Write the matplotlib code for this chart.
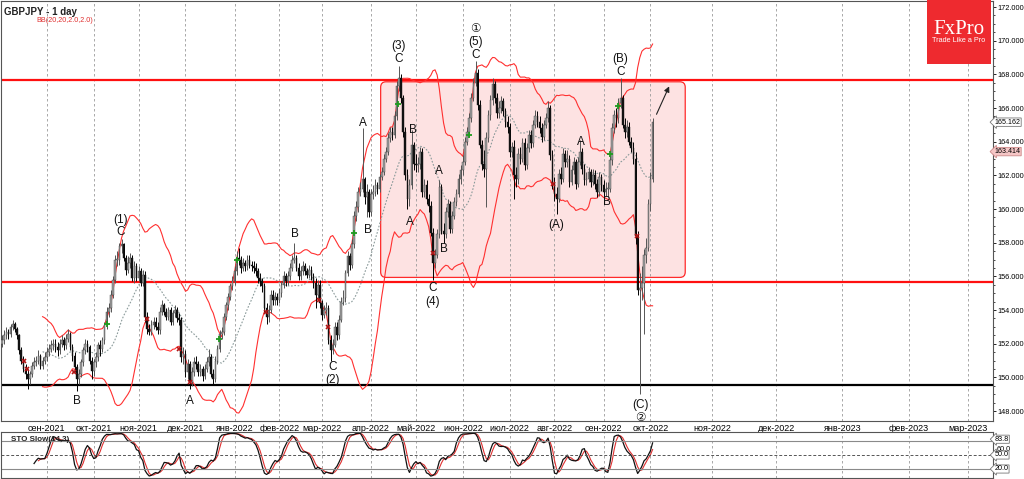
"""GBPJPY daily chart with Bollinger bands, wave labels and slow stochastic."""

import numpy as np
import pandas as pd
import matplotlib

matplotlib.use("Agg")
import matplotlib.pyplot as plt
from matplotlib.patches import FancyBboxPatch, Rectangle

plt.rcParams["font.family"] = ["Liberation Sans", "DejaVu Sans"]

FIRST_DAY = "2021-08-03"
FIRST_OPEN = 152.0

# daily closes / highs / lows, one list per month
close_2021_08 = [152.2, 152.5, 152.7, 152.6, 153.0, 153.2, 152.9, 152.5, 151.6, 151.0, 150.5, 150.2, 149.9, 150.2, 150.7, 150.9, 151.0, 151.3, 150.7, 151.0, 151.2]
high_2021_08 = [152.5, 152.8, 153.0, 152.9, 153.2, 153.4, 153.3, 153.0, 152.6, 151.8, 151.3, 150.8, 150.5, 150.4, 150.9, 151.2, 151.3, 151.6, 151.4, 151.2, 151.5]
low_2021_08 = [151.8, 152.0, 152.3, 152.3, 152.4, 152.8, 152.7, 152.3, 151.4, 150.8, 150.3, 149.9, 149.3, 149.6, 150.0, 150.5, 150.7, 150.8, 150.5, 150.5, 150.8]

close_2021_09 = [151.5, 151.7, 151.9, 152.0, 151.8, 151.6, 152.0, 152.2, 151.9, 152.3, 152.6, 151.8, 151.3, 150.6, 149.9, 150.2, 150.9, 151.6, 152.0, 151.8, 151.0, 150.4]
high_2021_09 = [151.8, 152.0, 152.2, 152.3, 152.3, 152.1, 152.3, 152.5, 152.4, 152.6, 152.9, 152.7, 152.0, 151.5, 150.8, 150.5, 151.1, 151.8, 152.3, 152.2, 151.9, 151.2]
low_2021_09 = [151.0, 151.3, 151.5, 151.6, 151.5, 151.3, 151.4, 151.8, 151.6, 151.7, 152.1, 151.6, 151.0, 150.3, 149.2, 149.6, 150.0, 150.7, 151.4, 151.5, 150.8, 149.9]

close_2021_10 = [150.9, 151.2, 151.9, 151.7, 152.2, 153.1, 153.9, 154.1, 154.9, 155.8, 157.0, 157.0, 157.8, 157.9, 157.1, 156.4, 156.8, 157.1, 155.9, 156.6, 155.9]
high_2021_10 = [151.1, 151.5, 152.1, 152.2, 152.4, 153.3, 154.2, 154.4, 155.2, 156.0, 157.3, 157.5, 158.0, 158.2, 158.0, 157.3, 157.2, 157.4, 157.3, 156.9, 156.8]
low_2021_10 = [150.1, 150.6, 151.0, 151.3, 151.5, 152.0, 152.9, 153.6, 153.9, 154.7, 155.6, 156.6, 156.7, 157.4, 156.9, 156.1, 156.2, 156.5, 155.7, 155.6, 155.7]

close_2021_11 = [156.3, 155.6, 156.1, 153.6, 152.9, 152.7, 153.1, 153.3, 153.0, 152.8, 153.9, 154.3, 153.9, 153.6, 154.0, 153.3, 153.8, 154.0, 153.5, 153.4, 151.2, 151.4]
high_2021_11 = [156.6, 156.5, 156.4, 156.3, 153.9, 153.2, 153.4, 153.6, 153.6, 153.3, 154.2, 154.6, 154.4, 154.1, 154.2, 154.2, 154.0, 154.3, 154.2, 153.8, 153.6, 151.8]
low_2021_11 = [155.7, 155.4, 155.4, 153.3, 152.6, 152.5, 152.5, 152.9, 152.8, 152.6, 152.6, 153.7, 153.7, 153.4, 153.4, 153.1, 153.1, 153.6, 153.3, 153.1, 150.9, 150.8]

close_2021_12 = [150.3, 150.8, 149.7, 150.3, 150.9, 150.8, 150.3, 150.5, 150.1, 150.5, 150.9, 151.2, 150.2, 149.9, 151.0, 151.7, 152.6, 152.7, 153.6, 154.3, 154.8, 155.4, 155.7]
high_2021_12 = [151.6, 151.1, 151.0, 150.6, 151.2, 151.3, 151.0, 150.8, 150.7, 150.8, 151.2, 151.7, 151.4, 150.5, 151.3, 151.9, 152.8, 153.0, 153.8, 154.5, 155.0, 155.6, 156.0]
low_2021_12 = [150.0, 149.9, 149.3, 149.5, 150.1, 150.5, 150.1, 150.1, 149.8, 149.9, 150.3, 150.7, 150.0, 149.6, 149.7, 150.8, 151.5, 152.3, 152.5, 153.4, 154.0, 154.6, 155.2]

close_2022_01 = [156.3, 157.1, 157.0, 156.5, 156.8, 156.6, 157.0, 156.7, 156.6, 156.5, 156.3, 155.9, 155.7, 155.4, 154.1, 153.6, 154.0, 154.9, 154.6, 154.8, 154.6]
high_2022_01 = [156.6, 157.5, 157.7, 157.2, 157.1, 157.0, 157.3, 157.3, 156.9, 156.9, 156.8, 156.5, 156.2, 155.9, 155.6, 154.4, 154.3, 155.2, 155.2, 155.1, 155.0]
low_2022_01 = [155.5, 156.1, 156.7, 156.2, 156.3, 156.3, 156.4, 156.5, 156.3, 156.2, 156.0, 155.6, 155.4, 155.1, 153.9, 153.2, 153.3, 153.8, 154.3, 154.3, 154.3]

close_2022_02 = [155.0, 155.5, 156.0, 155.7, 156.0, 156.5, 157.0, 157.1, 156.5, 156.0, 156.3, 156.6, 156.3, 156.1, 156.4, 156.0, 155.6, 154.9, 155.5, 154.4]
high_2022_02 = [155.3, 155.7, 156.3, 156.2, 156.3, 156.8, 157.3, 158.0, 157.3, 156.8, 156.6, 156.9, 156.8, 156.5, 156.7, 156.6, 156.2, 155.9, 155.8, 155.8]
low_2022_02 = [154.4, 154.8, 155.3, 155.4, 155.5, 155.8, 156.3, 156.8, 156.3, 155.8, 155.8, 156.1, 156.1, 155.9, 155.9, 155.8, 155.3, 154.1, 154.7, 154.1]

close_2022_03 = [153.7, 154.0, 154.1, 152.2, 151.6, 151.9, 153.0, 152.5, 153.4, 154.5, 154.7, 156.2, 157.2, 156.7, 157.9, 159.6, 160.1, 161.0, 161.2, 161.8, 160.7, 161.0, 159.8]
high_2022_03 = [154.6, 154.3, 154.5, 154.3, 152.5, 152.3, 153.3, 153.3, 153.7, 154.8, 155.2, 156.4, 157.5, 157.4, 158.2, 159.9, 160.5, 161.3, 161.6, 164.8, 161.9, 161.5, 161.2]
low_2022_03 = [153.4, 153.5, 153.7, 152.0, 151.0, 151.4, 151.8, 152.2, 152.3, 153.3, 154.3, 154.5, 156.0, 156.4, 156.5, 157.7, 159.3, 159.8, 160.8, 161.0, 160.3, 159.5, 159.5]

close_2022_04 = [160.9, 161.0, 161.4, 161.2, 161.9, 162.2, 163.0, 163.4, 164.2, 164.6, 164.4, 165.5, 167.3, 167.8, 166.6, 164.6, 162.0, 160.6, 161.4, 163.8, 162.7]
high_2022_04 = [161.2, 161.4, 161.8, 161.6, 162.1, 162.5, 163.3, 163.7, 164.5, 164.9, 164.9, 165.8, 167.6, 168.5, 168.0, 166.8, 164.9, 162.4, 161.8, 164.7, 164.0]
low_2022_04 = [159.6, 160.6, 160.8, 160.9, 161.0, 161.7, 162.0, 162.8, 163.2, 164.0, 164.1, 164.2, 165.3, 167.0, 166.3, 164.3, 161.7, 160.0, 160.2, 161.2, 162.3]

close_2022_05 = [162.6, 162.7, 163.4, 161.0, 161.4, 160.6, 160.2, 158.6, 156.8, 157.3, 158.5, 161.3, 158.7, 158.5, 159.8, 160.3, 158.8, 159.6, 160.4, 160.9, 161.8, 162.3]
high_2022_05 = [163.3, 163.1, 163.7, 163.6, 161.8, 161.7, 160.9, 160.5, 158.9, 157.6, 158.8, 161.7, 161.5, 159.2, 160.1, 160.6, 160.5, 159.9, 160.7, 161.2, 162.1, 162.6]
low_2022_05 = [162.2, 162.2, 162.4, 160.7, 160.7, 160.3, 159.8, 158.4, 155.8, 156.5, 157.1, 158.3, 158.5, 158.0, 158.3, 159.5, 158.6, 158.6, 159.4, 160.2, 160.7, 161.5]

close_2022_06 = [162.8, 164.0, 164.6, 165.4, 166.6, 167.5, 168.1, 166.2, 163.8, 162.7, 162.4, 164.2, 165.6, 166.5, 167.4, 166.6, 165.7, 166.0, 166.4, 165.8, 165.2, 164.9]
high_2022_06 = [163.2, 164.3, 164.9, 165.7, 166.9, 167.8, 168.8, 168.3, 166.5, 164.1, 163.5, 164.6, 165.9, 166.8, 167.8, 167.6, 166.9, 166.4, 166.7, 166.6, 166.0, 165.5]
low_2022_06 = [162.0, 162.6, 163.8, 164.3, 165.2, 166.4, 167.3, 165.9, 163.6, 162.3, 161.9, 160.1, 164.0, 165.3, 166.2, 166.3, 165.4, 165.4, 165.7, 165.5, 164.9, 164.5]

close_2022_07 = [163.4, 163.7, 162.0, 161.8, 163.3, 163.0, 163.9, 162.6, 163.6, 164.4, 163.9, 165.0, 165.5, 165.2, 164.8, 164.3, 165.0, 165.4, 166.0, 163.2, 161.6]
high_2022_07 = [165.1, 164.0, 164.1, 162.5, 163.6, 163.7, 164.2, 164.2, 163.9, 164.7, 164.7, 165.3, 165.9, 165.8, 165.5, 165.1, 165.3, 165.7, 166.4, 166.2, 163.5]
low_2022_07 = [163.1, 163.1, 160.6, 161.3, 161.5, 162.7, 162.8, 162.3, 162.4, 163.4, 163.6, 163.7, 164.8, 164.9, 164.5, 164.0, 164.1, 164.8, 165.2, 162.9, 161.2]

close_2022_08 = [160.9, 160.6, 162.1, 161.8, 163.3, 162.8, 163.0, 161.6, 162.3, 162.8, 161.5, 162.8, 163.4, 162.4, 161.7, 161.8, 162.2, 161.6, 162.0, 161.5, 161.0, 161.9, 161.4]
high_2022_08 = [161.9, 161.3, 162.4, 162.5, 163.6, 163.5, 163.5, 163.2, 162.6, 163.1, 163.0, 163.1, 164.1, 163.6, 162.7, 162.2, 162.5, 162.4, 162.4, 162.3, 161.8, 162.2, 162.1]
low_2022_08 = [160.5, 159.7, 160.4, 161.5, 161.6, 162.5, 162.5, 161.3, 161.4, 162.1, 161.2, 161.3, 162.6, 162.1, 161.4, 161.4, 161.6, 161.3, 161.4, 161.2, 160.7, 160.8, 161.1]

close_2022_09 = [161.0, 161.2, 161.2, 162.9, 164.8, 165.6, 165.4, 166.3, 166.6, 165.0, 164.6, 164.9, 164.0, 163.6, 163.0, 158.4, 155.2, 155.3, 155.6, 157.3, 157.7, 160.3]
high_2022_09 = [161.7, 161.6, 161.6, 163.2, 165.1, 165.9, 166.0, 166.6, 167.8, 166.8, 165.4, 165.3, 165.2, 164.3, 164.0, 163.4, 158.7, 156.2, 156.6, 157.6, 158.3, 160.6]
low_2022_09 = [160.8, 160.8, 160.7, 161.0, 162.6, 164.5, 164.9, 165.1, 166.0, 164.8, 164.2, 164.3, 163.8, 163.4, 162.7, 157.9, 154.9, 149.0, 154.6, 152.6, 156.8, 157.5]

close_2022_10 = [161.8, 165.16]
high_2022_10 = [162.2, 165.4]
low_2022_10 = [159.9, 161.6]

# horizontal levels and the range box
resistance = 167.67
support = 155.64
base_line = 149.54
box_bars = (177.5, 320.3)
box_prices = (155.94, 167.56)

# indicator signal markers (bar index, price)
sig_up_bar = [49, 101.6, 110, 165, 185.4, 218.7, 285.2, 289]
sig_up_price = [153.2, 152.3, 157.0, 158.6, 166.25, 164.4, 163.3, 166.1]
sig_dn_bar = [10.3, 11.7, 33.7, 67.9, 83, 88, 123.6, 148.5, 153, 202, 258.5, 297.5]
sig_dn_price = [151.0, 150.5, 150.3, 153.45, 151.7, 149.7, 153.9, 154.6, 153.0, 157.4, 161.5, 158.4]

# Elliott wave labels (text, bar index, price)
wave_text = ["(1)", "C", "B", "A", "B", "C", "(2)", "A", "B", "(3)", "C", "A", "B",
             "A", "B", "C", "(4)", "\u2460", "(5)", "C", "(A)", "A", "B", "(B)", "C",
             "(C)", "\u2461"]
wave_bar = [55.7, 55.7, 35.1, 88.0, 137.2, 155.0, 155.0, 169.0, 171.4, 185.9, 185.9, 191.1, 192.5,
            204.6, 207.0, 201.8, 201.8, 222.0, 222.0, 222.0, 259.9, 271.2, 283.8, 289.9, 289.9,
            299.2, 299.2]
wave_price = [159.38, 158.61, 148.59, 148.59, 158.49, 150.61, 149.84, 165.13, 158.73, 169.69, 168.92, 159.26, 164.71,
              162.28, 157.60, 155.29, 154.46, 170.70, 169.93, 169.16, 159.08, 164.0, 160.39, 168.92, 168.15,
              148.36, 147.59]

MONTHS_RU = ["янв", "фев", "мар", "апр", "май", "июн", "июл", "авг", "сен", "окт", "ноя", "дек"]

close = np.array(close_2021_08 + close_2021_09 + close_2021_10 + close_2021_11 + close_2021_12
                 + close_2022_01 + close_2022_02 + close_2022_03 + close_2022_04 + close_2022_05
                 + close_2022_06 + close_2022_07 + close_2022_08 + close_2022_09 + close_2022_10)
high = np.array(high_2021_08 + high_2021_09 + high_2021_10 + high_2021_11 + high_2021_12
                + high_2022_01 + high_2022_02 + high_2022_03 + high_2022_04 + high_2022_05
                + high_2022_06 + high_2022_07 + high_2022_08 + high_2022_09 + high_2022_10)
low = np.array(low_2021_08 + low_2021_09 + low_2021_10 + low_2021_11 + low_2021_12
               + low_2022_01 + low_2022_02 + low_2022_03 + low_2022_04 + low_2022_05
               + low_2022_06 + low_2022_07 + low_2022_08 + low_2022_09 + low_2022_10)
opens = np.concatenate([[FIRST_OPEN], close[:-1]])
n = len(close)
idx = np.arange(n)
dates = pd.bdate_range(FIRST_DAY, periods=n)

# Bollinger bands (20, 2.0)
cs = pd.Series(close)
mid = cs.rolling(20).mean()
sd = cs.rolling(20).std(ddof=0)
upper = mid + 2 * sd
lower = mid - 2 * sd

# slow stochastic (14, 3, 3)
hs, ls = pd.Series(high), pd.Series(low)
ll = ls.rolling(14).min()
hh = hs.rolling(14).max()
k = 100 * (cs - ll).rolling(3).sum() / (hh - ll).rolling(3).sum()
d = k.rolling(3).mean()

# month grid positions (future months run on calendar days)
oct_idx = int(np.nonzero(dates >= pd.Timestamp("2022-10-01"))[0][0])
tick_pos, tick_lab = [], []
for m in pd.date_range("2021-09-01", "2023-03-01", freq="MS"):
    if m <= dates[-1]:
        pos = int(np.nonzero(dates >= m)[0][0])
    else:
        pos = oct_idx + (m - dates[oct_idx]).days
    tick_pos.append(pos)
    tick_lab.append(f"{MONTHS_RU[m.month - 1]}-{m.year}")

W, H = 1024, 479
fig = plt.figure(figsize=(W / 100, H / 100), dpi=100)
ax = fig.add_axes([1 / W, 1 - 421 / H, 992 / W, 420 / H])
ax2 = fig.add_axes([1 / W, 1 - 478 / H, 992 / W, 46 / H])

XMIN, XMAX = -0.5, 464.6
grid_kw = dict(color="#9a9a9a", lw=0.6, ls=(0, (3, 3)))

# range box and levels
box = FancyBboxPatch((box_bars[0], box_prices[0]), box_bars[1] - box_bars[0],
                     box_prices[1] - box_prices[0],
                     boxstyle="round,pad=0,rounding_size=2.5", mutation_aspect=0.13,
                     fc="#fde2e2", ec="#ff2a2a", lw=0.9, zorder=0)
ax.add_patch(box)
ax.axhline(resistance, color="#ff1010", lw=1.6, zorder=1)
ax.axhline(support, color="#ff1010", lw=1.6, zorder=1)
ax.axhline(base_line, color="#000000", lw=1.6, zorder=1)

# Bollinger lines
ax.plot(idx, upper, color="#ff3030", lw=0.8, zorder=2)
ax.plot(idx, lower, color="#ff3030", lw=0.8, zorder=2)
ax.plot(idx, mid, color="#8a9a9a", lw=0.8, ls=(0, (1.5, 1.5)), zorder=2)

# candles
bull = close >= opens
wick_col = np.where(bull, "#555555", "#000000")
ax.vlines(idx, low, high, colors=wick_col, lw=0.7, zorder=3)
body_lo = np.minimum(opens, close)
body_h = np.maximum(np.abs(close - opens), 0.05)
ax.bar(idx[bull], body_h[bull], bottom=body_lo[bull], width=0.75,
       color="#a0a0a0", edgecolor="#404040", lw=0.3, zorder=4)
ax.bar(idx[~bull], body_h[~bull], bottom=body_lo[~bull], width=0.75,
       color="#111111", edgecolor="#111111", lw=0.3, zorder=4)

# signal markers
ax.plot(sig_up_bar, sig_up_price, ls="none", marker="+", ms=5, mew=1.3, color="#1f9a1f", zorder=5)
ax.plot(sig_dn_bar, sig_dn_price, ls="none", marker="x", ms=3.5, mew=1.2, color="#b01515", zorder=5)

# wave labels
for t, b, p in zip(wave_text, wave_bar, wave_price):
    ax.text(b, p, t, ha="center", va="center", fontsize=8.5, color="#111111",
            family=["Liberation Sans", "DejaVu Sans"], zorder=6, clip_on=True)

ax.annotate("", xy=(313.3, 167.44), xytext=(306.3, 165.48),
            arrowprops=dict(arrowstyle="-|>", color="#222222", lw=0.8, mutation_scale=8), zorder=6)

ax.set_xlim(XMIN, XMAX)
ax.set_ylim(147.41, 172.36)
ax.yaxis.tick_right()
ax.set_yticks(np.arange(148, 173, 2))
ax.set_yticklabels([f"{v:.3f}" for v in np.arange(148, 173, 2)], fontsize=5.3)
ax.set_yticks(np.arange(148, 172.5, 0.5), minor=True)
ax.tick_params(axis="y", which="major", length=2.5, pad=0.8, width=0.6)
ax.tick_params(axis="y", which="minor", length=1.5, width=0.5)
ax.set_xticks(tick_pos)
ax.set_xticklabels(tick_lab, fontsize=6.5)
ax.tick_params(axis="x", length=0, pad=2)
ax.grid(axis="x", **grid_kw)
ax.set_axisbelow(True)
for s in ax.spines.values():
    s.set_color("#555555")
    s.set_linewidth(0.8)

yt = ax.get_yaxis_transform()
ax.text(1.0015, 165.162, "165.162", transform=yt, fontsize=5.1, va="center", ha="left",
        bbox=dict(boxstyle="larrow,pad=0.1", fc="white", ec="#777777", lw=0.6))
ax.text(1.0015, 163.414, "163.414", transform=yt, fontsize=5.1, va="center", ha="left",
        bbox=dict(boxstyle="larrow,pad=0.1", fc="#f5c6c6", ec="#cc8888", lw=0.6))

ax.text(0.003, 0.985, "GBPJPY - 1 day", transform=ax.transAxes, fontsize=7, fontweight="bold",
        color="#222222", va="top", ha="left")
ax.text(0.036, 0.963, "BB(20,20,2.0,2.0)", transform=ax.transAxes, fontsize=5.2,
        color="#e03030", va="top", ha="left")

# stochastic panel
ax2.plot(idx, d, color="#e03030", lw=0.8)
ax2.plot(idx, k, color="#111111", lw=0.9)
ax2.axhline(80, color="#8a8a8a", lw=0.8)
ax2.axhline(20, color="#8a8a8a", lw=0.8)
ax2.axhline(50, color="#555555", lw=0.7, ls=(0, (3, 2)))
ax2.set_xlim(XMIN, XMAX)
ax2.set_ylim(0.7, 99.3)
ax2.set_xticks(tick_pos)
ax2.set_xticklabels([])
ax2.set_yticks([])
ax2.tick_params(axis="x", length=0)
ax2.grid(axis="x", **grid_kw)
for s in ax2.spines.values():
    s.set_color("#555555")
    s.set_linewidth(0.8)
yt2 = ax2.get_yaxis_transform()
ax2.text(1.004, 62.0, "60.0", transform=yt2, fontsize=5.2, va="center", ha="left")
for v, lab in [(83.8, "83.8"), (50.0, "50.0"), (20.0, "20.0")]:
    ax2.text(1.0015, v, lab, transform=yt2, fontsize=5.2, va="center", ha="left",
             bbox=dict(boxstyle="larrow,pad=0.08", fc="white", ec="#777777", lw=0.6))
ax2.text(0.01, 0.92, "STO Slow(14,3)", transform=ax2.transAxes, fontsize=5.8,
         fontweight="bold", color="#222222", va="top", ha="left")

# FxPro logo
fig.patches.append(Rectangle((927 / W, 1 - 64 / H), 64 / W, 64 / H, transform=fig.transFigure,
                             fc="#ee2a2f", ec="none", zorder=10))
fig.text(959 / W, 1 - 29 / H, "FxPro", ha="center", va="center", color="white", fontsize=15,
         family="Liberation Serif", zorder=11)
fig.text(959 / W, 1 - 41 / H, "Trade Like a Pro", ha="center", va="center", color="white",
         fontsize=5.2, zorder=11)

fig.savefig("out.png", dpi=100)
